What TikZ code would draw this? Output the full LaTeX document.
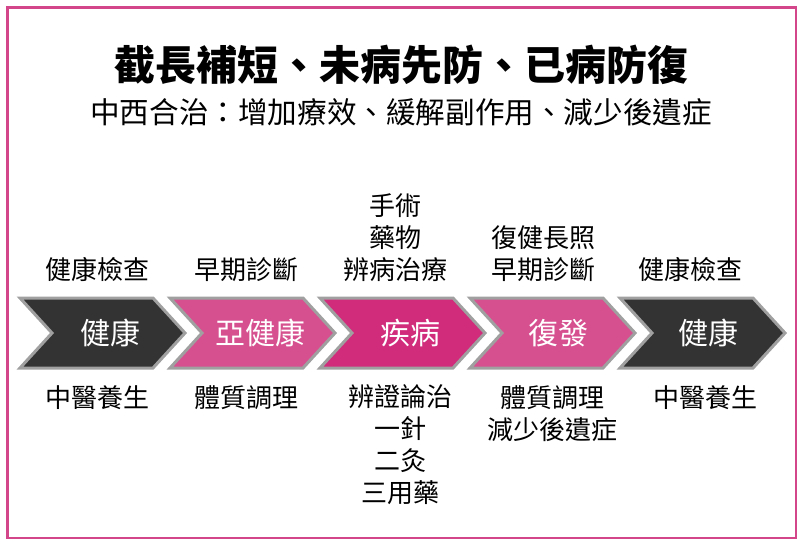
\documentclass[tikz,border=0pt]{standalone}
\usepackage{fontspec}
\usepackage{tikz}
\newfontfamily\cjk{Noto Sans CJK TC}
\definecolor{darkfill}{HTML}{333333}
\definecolor{rosefill}{HTML}{D6508F}
\definecolor{magentafill}{HTML}{D12B7C}
\definecolor{framepink}{HTML}{D4468A}
\definecolor{edgegray}{HTML}{A0A0A0}
\def\chevron[#1](#2){\draw[#1] (#2) -- ++(133,0) -- ++(32,35) -- ++(-32,35) -- ++(-133,0) -- ++(32,-35) -- cycle;}
\tikzset{
	chev/.style={draw=edgegray, line width=3pt},
	phase/.style={font=\cjk\fontsize{30}{34}\selectfont, text=white},
	note/.style={font=\cjk\fontsize{26}{32}\selectfont, align=center, inner sep=0pt}
}

\begin{document}
\begin{tikzpicture}[x=1pt, y=-1pt]
			%%%%% START %%%%%
			
			\useasboundingbox (0, 0) rectangle (800, 546);
			\draw[framepink, line width=2.5pt] (7.5, 7.5) rectangle (796, 538);
			
			\node[font=\cjk\bfseries\fontsize{41}{44}\selectfont] (title) at (401, 65) {截長補短、未病先防、已病防復};
			\node[font=\cjk\fontsize{29.6}{34}\selectfont] (subtitle) at (401, 112) {中西合治：增加療效、緩解副作用、減少後遺症};
			
			\chevron[chev, fill=darkfill](20, 298);
			\chevron[chev, fill=rosefill](170, 298);
			\chevron[chev, fill=magentafill](320, 298);
			\chevron[chev, fill=rosefill](470, 298);
			\chevron[chev, fill=darkfill](620, 298);
			
			\node[phase] (health1) at (110, 333) {健康};
			\node[phase] (subhealth) at (260, 333) {亞健康};
			\node[phase] (illness) at (410, 333) {疾病};
			\node[phase] (relapse) at (558, 333) {復發};
			\node[phase] (health2) at (708, 333) {健康};
			
			\node[note] (check1) at (97, 270) {健康檢查};
			\node[note] (early1) at (246, 270) {早期診斷};
			\node[note] (treat) at (395, 237.5) {手術\\藥物\\辨病治療};
			\node[note] (rehab) at (543, 254) {復健長照\\早期診斷};
			\node[note] (check2) at (690, 270) {健康檢查};
			
			\node[note] (nurture1) at (97, 398) {中醫養生};
			\node[note] (constit1) at (246, 398) {體質調理};
			\node[note] (tcmcare) at (400, 445) {辨證論治\\一針\\二灸\\三用藥};
			\node[note] (constit2) at (552, 414) {體質調理\\減少後遺症};
			\node[note] (nurture2) at (705, 398) {中醫養生};
			
			%%%%% END %%%%%
\end{tikzpicture}
\end{document}
